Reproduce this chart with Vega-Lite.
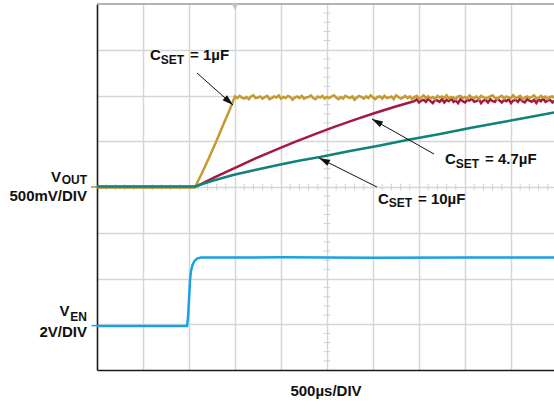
{
  "$schema": "https://vega.github.io/schema/vega-lite/v6.json",
  "width": 457,
  "height": 366,
  "autosize": {"type": "none"},
  "padding": {"left": 97, "top": 4, "right": 0, "bottom": 32},
  "background": "white",
  "config": {"view": {"stroke": null}, "font": "Liberation Sans"},
  "datasets": {
    "curves": [
      {"s": "r", "x": 0, "y": 4.0}, {"s": "r", "x": 2.13, "y": 4.0}, {"s": "r", "x": 2.348, "y": 4.108}, {"s": "r", "x": 2.565, "y": 4.215}, {"s": "r", "x": 3.0, "y": 4.42}, {"s": "r", "x": 3.435, "y": 4.618}, {"s": "r", "x": 3.87, "y": 4.806}, {"s": "r", "x": 4.304, "y": 4.986}, {"s": "r", "x": 4.739, "y": 5.157}, {"s": "r", "x": 5.174, "y": 5.319}, {"s": "r", "x": 5.609, "y": 5.473}, {"s": "r", "x": 6.043, "y": 5.617}, {"s": "r", "x": 6.478, "y": 5.754}, {"s": "r", "x": 6.87, "y": 5.869},
      {"s": "r", "x": 6.9, "y": 5.876}, {"s": "r", "x": 6.95, "y": 5.918}, {"s": "r", "x": 7.0, "y": 5.848}, {"s": "r", "x": 7.05, "y": 5.89}, {"s": "r", "x": 7.1, "y": 5.904}, {"s": "r", "x": 7.15, "y": 5.862}, {"s": "r", "x": 7.2, "y": 5.932}, {"s": "r", "x": 7.25, "y": 5.876}, {"s": "r", "x": 7.3, "y": 5.834}, {"s": "r", "x": 7.35, "y": 5.904},
      {"s": "r", "x": 7.4, "y": 5.89}, {"s": "r", "x": 7.45, "y": 5.862}, {"s": "r", "x": 7.5, "y": 5.918}, {"s": "r", "x": 7.55, "y": 5.848}, {"s": "r", "x": 7.6, "y": 5.904}, {"s": "r", "x": 7.65, "y": 5.876}, {"s": "r", "x": 7.7, "y": 5.932}, {"s": "r", "x": 7.75, "y": 5.862}, {"s": "r", "x": 7.8, "y": 5.89}, {"s": "r", "x": 7.85, "y": 5.834},
      {"s": "r", "x": 7.9, "y": 5.918}, {"s": "r", "x": 7.95, "y": 5.876}, {"s": "r", "x": 8.0, "y": 5.848}, {"s": "r", "x": 8.05, "y": 5.904}, {"s": "r", "x": 8.1, "y": 5.89}, {"s": "r", "x": 8.15, "y": 5.932}, {"s": "r", "x": 8.2, "y": 5.862}, {"s": "r", "x": 8.25, "y": 5.876}, {"s": "r", "x": 8.3, "y": 5.918}, {"s": "r", "x": 8.35, "y": 5.834},
      {"s": "r", "x": 8.4, "y": 5.89}, {"s": "r", "x": 8.45, "y": 5.904}, {"s": "r", "x": 8.5, "y": 5.848}, {"s": "r", "x": 8.55, "y": 5.918}, {"s": "r", "x": 8.6, "y": 5.876}, {"s": "r", "x": 8.65, "y": 5.862}, {"s": "r", "x": 8.7, "y": 5.932}, {"s": "r", "x": 8.75, "y": 5.89}, {"s": "r", "x": 8.8, "y": 5.848}, {"s": "r", "x": 8.85, "y": 5.904},
      {"s": "r", "x": 8.9, "y": 5.876}, {"s": "r", "x": 8.95, "y": 5.918}, {"s": "r", "x": 9.0, "y": 5.834}, {"s": "r", "x": 9.05, "y": 5.89}, {"s": "r", "x": 9.1, "y": 5.904}, {"s": "r", "x": 9.15, "y": 5.862}, {"s": "r", "x": 9.2, "y": 5.932}, {"s": "r", "x": 9.25, "y": 5.876}, {"s": "r", "x": 9.3, "y": 5.848}, {"s": "r", "x": 9.35, "y": 5.918},
      {"s": "r", "x": 9.4, "y": 5.89}, {"s": "r", "x": 9.45, "y": 5.862}, {"s": "r", "x": 9.5, "y": 5.904}, {"s": "r", "x": 9.55, "y": 5.834}, {"s": "r", "x": 9.6, "y": 5.918}, {"s": "r", "x": 9.65, "y": 5.876}, {"s": "r", "x": 9.7, "y": 5.932}, {"s": "r", "x": 9.75, "y": 5.862}, {"s": "r", "x": 9.8, "y": 5.89}, {"s": "r", "x": 9.85, "y": 5.904},
      {"s": "r", "x": 9.9, "y": 5.848}, {"s": "r", "x": 9.935, "y": 5.89},

      {"s": "y", "x": 0, "y": 3.99}, {"s": "y", "x": 1.0, "y": 3.99}, {"s": "y", "x": 2.13, "y": 3.99}, {"s": "y", "x": 2.196, "y": 4.131}, {"s": "y", "x": 2.283, "y": 4.306}, {"s": "y", "x": 2.413, "y": 4.59}, {"s": "y", "x": 2.587, "y": 4.984}, {"s": "y", "x": 2.761, "y": 5.399}, {"s": "y", "x": 2.891, "y": 5.705}, {"s": "y", "x": 2.975, "y": 5.92},
      {"s": "y", "x": 3.0, "y": 5.979}, {"s": "y", "x": 3.05, "y": 5.943}, {"s": "y", "x": 3.1, "y": 5.991}, {"s": "y", "x": 3.15, "y": 5.955}, {"s": "y", "x": 3.2, "y": 5.931}, {"s": "y", "x": 3.25, "y": 5.967}, {"s": "y", "x": 3.3, "y": 5.919}, {"s": "y", "x": 3.35, "y": 5.979}, {"s": "y", "x": 3.4, "y": 6.003}, {"s": "y", "x": 3.45, "y": 5.943},
      {"s": "y", "x": 3.5, "y": 5.955}, {"s": "y", "x": 3.55, "y": 5.979}, {"s": "y", "x": 3.6, "y": 5.931}, {"s": "y", "x": 3.65, "y": 5.967}, {"s": "y", "x": 3.7, "y": 5.991}, {"s": "y", "x": 3.75, "y": 5.919}, {"s": "y", "x": 3.8, "y": 5.943}, {"s": "y", "x": 3.85, "y": 5.979}, {"s": "y", "x": 3.9, "y": 5.955}, {"s": "y", "x": 3.95, "y": 6.003},
      {"s": "y", "x": 4.0, "y": 5.931}, {"s": "y", "x": 4.05, "y": 5.967}, {"s": "y", "x": 4.1, "y": 5.943}, {"s": "y", "x": 4.15, "y": 5.991}, {"s": "y", "x": 4.2, "y": 5.967}, {"s": "y", "x": 4.25, "y": 5.907}, {"s": "y", "x": 4.3, "y": 5.955}, {"s": "y", "x": 4.35, "y": 5.979}, {"s": "y", "x": 4.4, "y": 5.943}, {"s": "y", "x": 4.45, "y": 5.991},
      {"s": "y", "x": 4.5, "y": 5.931}, {"s": "y", "x": 4.55, "y": 5.955}, {"s": "y", "x": 4.6, "y": 5.967}, {"s": "y", "x": 4.65, "y": 6.003}, {"s": "y", "x": 4.7, "y": 5.943}, {"s": "y", "x": 4.75, "y": 5.919}, {"s": "y", "x": 4.8, "y": 5.979}, {"s": "y", "x": 4.85, "y": 5.955}, {"s": "y", "x": 4.9, "y": 5.991}, {"s": "y", "x": 4.95, "y": 5.931},
      {"s": "y", "x": 5.0, "y": 5.967}, {"s": "y", "x": 5.05, "y": 5.943}, {"s": "y", "x": 5.1, "y": 5.979}, {"s": "y", "x": 5.15, "y": 6.003}, {"s": "y", "x": 5.2, "y": 5.955}, {"s": "y", "x": 5.25, "y": 5.919}, {"s": "y", "x": 5.3, "y": 5.967}, {"s": "y", "x": 5.35, "y": 5.931}, {"s": "y", "x": 5.4, "y": 5.991}, {"s": "y", "x": 5.45, "y": 5.967},
      {"s": "y", "x": 5.5, "y": 5.943}, {"s": "y", "x": 5.55, "y": 5.979}, {"s": "y", "x": 5.6, "y": 5.907}, {"s": "y", "x": 5.65, "y": 5.955}, {"s": "y", "x": 5.7, "y": 5.991}, {"s": "y", "x": 5.75, "y": 5.967}, {"s": "y", "x": 5.8, "y": 5.931}, {"s": "y", "x": 5.85, "y": 5.979}, {"s": "y", "x": 5.9, "y": 5.943}, {"s": "y", "x": 5.95, "y": 6.003},
      {"s": "y", "x": 6.0, "y": 5.955}, {"s": "y", "x": 6.05, "y": 5.919}, {"s": "y", "x": 6.1, "y": 5.967}, {"s": "y", "x": 6.15, "y": 5.979}, {"s": "y", "x": 6.2, "y": 5.931}, {"s": "y", "x": 6.25, "y": 5.991}, {"s": "y", "x": 6.3, "y": 5.943}, {"s": "y", "x": 6.35, "y": 5.955}, {"s": "y", "x": 6.4, "y": 5.979}, {"s": "y", "x": 6.45, "y": 5.919},
      {"s": "y", "x": 6.5, "y": 6.003}, {"s": "y", "x": 6.55, "y": 5.967}, {"s": "y", "x": 6.6, "y": 5.931}, {"s": "y", "x": 6.65, "y": 5.955}, {"s": "y", "x": 6.7, "y": 5.991}, {"s": "y", "x": 6.75, "y": 5.943}, {"s": "y", "x": 6.8, "y": 5.979}, {"s": "y", "x": 6.85, "y": 5.919}, {"s": "y", "x": 6.9, "y": 5.967}, {"s": "y", "x": 6.95, "y": 5.991},
      {"s": "y", "x": 7.0, "y": 5.931}, {"s": "y", "x": 7.05, "y": 5.955}, {"s": "y", "x": 7.1, "y": 6.003}, {"s": "y", "x": 7.15, "y": 5.943}, {"s": "y", "x": 7.2, "y": 5.979}, {"s": "y", "x": 7.25, "y": 5.931}, {"s": "y", "x": 7.3, "y": 5.967}, {"s": "y", "x": 7.35, "y": 5.919}, {"s": "y", "x": 7.4, "y": 5.991}, {"s": "y", "x": 7.45, "y": 5.955},
      {"s": "y", "x": 7.5, "y": 5.979}, {"s": "y", "x": 7.55, "y": 5.943}, {"s": "y", "x": 7.6, "y": 6.003}, {"s": "y", "x": 7.65, "y": 5.931}, {"s": "y", "x": 7.7, "y": 5.967}, {"s": "y", "x": 7.75, "y": 5.955}, {"s": "y", "x": 7.8, "y": 5.919}, {"s": "y", "x": 7.85, "y": 5.979}, {"s": "y", "x": 7.9, "y": 5.991}, {"s": "y", "x": 7.95, "y": 5.943},
      {"s": "y", "x": 8.0, "y": 5.967}, {"s": "y", "x": 8.05, "y": 5.931}, {"s": "y", "x": 8.1, "y": 6.003}, {"s": "y", "x": 8.15, "y": 5.955}, {"s": "y", "x": 8.2, "y": 5.943}, {"s": "y", "x": 8.25, "y": 5.979}, {"s": "y", "x": 8.3, "y": 5.919}, {"s": "y", "x": 8.35, "y": 5.991}, {"s": "y", "x": 8.4, "y": 5.967}, {"s": "y", "x": 8.45, "y": 5.931},
      {"s": "y", "x": 8.5, "y": 5.955}, {"s": "y", "x": 8.55, "y": 5.979}, {"s": "y", "x": 8.6, "y": 6.003}, {"s": "y", "x": 8.65, "y": 5.943}, {"s": "y", "x": 8.7, "y": 5.919}, {"s": "y", "x": 8.75, "y": 5.967}, {"s": "y", "x": 8.8, "y": 5.991}, {"s": "y", "x": 8.85, "y": 5.931}, {"s": "y", "x": 8.9, "y": 5.979}, {"s": "y", "x": 8.95, "y": 5.955},
      {"s": "y", "x": 9.0, "y": 5.943}, {"s": "y", "x": 9.05, "y": 6.003}, {"s": "y", "x": 9.1, "y": 5.931}, {"s": "y", "x": 9.15, "y": 5.967}, {"s": "y", "x": 9.2, "y": 5.991}, {"s": "y", "x": 9.25, "y": 5.919}, {"s": "y", "x": 9.3, "y": 5.955}, {"s": "y", "x": 9.35, "y": 5.979}, {"s": "y", "x": 9.4, "y": 5.943}, {"s": "y", "x": 9.45, "y": 5.967},
      {"s": "y", "x": 9.5, "y": 6.003}, {"s": "y", "x": 9.55, "y": 5.931}, {"s": "y", "x": 9.6, "y": 5.943}, {"s": "y", "x": 9.65, "y": 5.991}, {"s": "y", "x": 9.7, "y": 5.955}, {"s": "y", "x": 9.75, "y": 5.979}, {"s": "y", "x": 9.8, "y": 5.919}, {"s": "y", "x": 9.85, "y": 5.967}, {"s": "y", "x": 9.9, "y": 5.979}, {"s": "y", "x": 9.935, "y": 5.943},

      {"s": "t", "x": 0, "y": 4.01}, {"s": "t", "x": 2.13, "y": 4.01}, {"s": "t", "x": 2.457, "y": 4.12}, {"s": "t", "x": 2.957, "y": 4.262}, {"s": "t", "x": 3.435, "y": 4.372}, {"s": "t", "x": 3.935, "y": 4.481}, {"s": "t", "x": 4.413, "y": 4.579}, {"s": "t", "x": 4.848, "y": 4.656}, {"s": "t", "x": 5.5, "y": 4.787}, {"s": "t", "x": 6.152, "y": 4.907}, {"s": "t", "x": 6.739, "y": 5.027}, {"s": "t", "x": 7.457, "y": 5.158}, {"s": "t", "x": 8.109, "y": 5.29}, {"s": "t", "x": 8.761, "y": 5.41}, {"s": "t", "x": 9.413, "y": 5.53}, {"s": "t", "x": 9.935, "y": 5.628},

      {"s": "c", "x": 0, "y": 0.962}, {"s": "c", "x": 1.957, "y": 0.962}, {"s": "c", "x": 1.978, "y": 1.137}, {"s": "c", "x": 2.0, "y": 1.53}, {"s": "c", "x": 2.022, "y": 1.967}, {"s": "c", "x": 2.043, "y": 2.164}, {"s": "c", "x": 2.076, "y": 2.295}, {"s": "c", "x": 2.12, "y": 2.383}, {"s": "c", "x": 2.174, "y": 2.437}, {"s": "c", "x": 2.261, "y": 2.459}, {"s": "c", "x": 4.0, "y": 2.463}, {"s": "c", "x": 6.0, "y": 2.456}, {"s": "c", "x": 8.0, "y": 2.461}, {"s": "c", "x": 9.935, "y": 2.459}
    ],
    "hx": [{"x": 0.2}, {"x": 0.4}, {"x": 0.6}, {"x": 0.8}, {"x": 1.2}, {"x": 1.4}, {"x": 1.6}, {"x": 1.8}, {"x": 2.2}, {"x": 2.4}, {"x": 2.6}, {"x": 2.8}, {"x": 3.2}, {"x": 3.4}, {"x": 3.6}, {"x": 3.8}, {"x": 4.2}, {"x": 4.4}, {"x": 4.6}, {"x": 4.8}, {"x": 5.2}, {"x": 5.4}, {"x": 5.6}, {"x": 5.8}, {"x": 6.2}, {"x": 6.4}, {"x": 6.6}, {"x": 6.8}, {"x": 7.2}, {"x": 7.4}, {"x": 7.6}, {"x": 7.8}, {"x": 8.2}, {"x": 8.4}, {"x": 8.6}, {"x": 8.8}, {"x": 9.2}, {"x": 9.4}, {"x": 9.6}, {"x": 9.8}],
    "vy": [{"y": 0.2}, {"y": 0.4}, {"y": 0.6}, {"y": 0.8}, {"y": 1.2}, {"y": 1.4}, {"y": 1.6}, {"y": 1.8}, {"y": 2.2}, {"y": 2.4}, {"y": 2.6}, {"y": 2.8}, {"y": 3.2}, {"y": 3.4}, {"y": 3.6}, {"y": 3.8}, {"y": 4.2}, {"y": 4.4}, {"y": 4.6}, {"y": 4.8}, {"y": 5.2}, {"y": 5.4}, {"y": 5.6}, {"y": 5.8}, {"y": 6.2}, {"y": 6.4}, {"y": 6.6}, {"y": 6.8}, {"y": 7.2}, {"y": 7.4}, {"y": 7.6}, {"y": 7.8}],
    "arrows": [
      {"id": "a1", "x": 2.174, "y": 6.492, "x2": 2.957, "y2": 5.792},
      {"id": "a2", "x": 7.326, "y": 4.721, "x2": 5.978, "y2": 5.486},
      {"id": "a3", "x": 6.087, "y": 4.0, "x2": 4.826, "y2": 4.634}
    ],
    "mainL": [
      {"t": "C", "x": 1.152, "y": 6.776}, {"t": "= 1µF", "x": 2.022, "y": 6.776},
      {"t": "C", "x": 7.565, "y": 4.503}, {"t": "= 4.7µF", "x": 8.435, "y": 4.503},
      {"t": "C", "x": 6.109, "y": 3.628}, {"t": "= 10µF", "x": 6.978, "y": 3.628}
    ],
    "subL": [
      {"t": "SET", "x": 1.385, "y": 6.678}, {"t": "SET", "x": 7.8, "y": 4.426}, {"t": "SET", "x": 6.344, "y": 3.552}
    ],
    "mainR": [
      {"t": "V", "x": -0.78, "y": 4.116}, {"t": "500mV/DIV", "x": -0.217, "y": 3.694},
      {"t": "V", "x": -0.6, "y": 1.18}, {"t": "2V/DIV", "x": -0.217, "y": 0.721}
    ],
    "subR": [
      {"t": "OUT", "x": -0.217, "y": 4.066}, {"t": "EN", "x": -0.217, "y": 1.071}
    ]
  },
  "layer": [
    {
      "data": {"name": "curves"},
      "transform": [{"filter": "datum.s === 'r'"}],
      "mark": {"type": "line", "color": "#a6193f", "strokeWidth": 2.5},
      "encoding": {
        "x": {"field": "x", "type": "quantitative", "scale": {"domain": [0, 9.935], "nice": false, "zero": false},
          "axis": {"title": "500µs/DIV", "values": [1, 2, 3, 4, 5, 6, 7, 8, 9], "grid": true, "gridColor": "#d6d6d6", "gridWidth": 1.5, "ticks": false, "labels": false, "domainColor": "#1a1a1a", "domainWidth": 1.6, "titleFont": "Liberation Sans", "titleFontSize": 15, "titleFontWeight": "bold", "titleColor": "#111111", "titlePadding": 13}},
        "y": {"field": "y", "type": "quantitative", "scale": {"domain": [0, 8], "nice": false, "zero": false},
          "axis": {"title": null, "values": [1, 2, 3, 4, 5, 6, 7], "grid": true, "gridColor": "#d6d6d6", "gridWidth": 1.5, "ticks": false, "labels": false, "domainColor": "#1a1a1a", "domainWidth": 1.6}}
      }
    },
    {
      "data": {"name": "hx"},
      "mark": {"type": "tick", "orient": "vertical", "color": "#c2c2c2", "size": 7, "thickness": 1},
      "encoding": {
        "x": {"field": "x", "type": "quantitative", "scale": {"domain": [0, 9.935], "nice": false, "zero": false}},
        "y": {"datum": 4, "type": "quantitative", "scale": {"domain": [0, 8], "nice": false, "zero": false}}
      }
    },
    {
      "data": {"name": "vy"},
      "mark": {"type": "tick", "orient": "horizontal", "color": "#c2c2c2", "size": 7, "thickness": 1},
      "encoding": {
        "x": {"datum": 5, "type": "quantitative", "scale": {"domain": [0, 9.935], "nice": false, "zero": false}},
        "y": {"field": "y", "type": "quantitative", "scale": {"domain": [0, 8], "nice": false, "zero": false}}
      }
    },
    {
      "data": {"values": [{}]},
      "mark": {"type": "rule", "color": "#9a9a9a", "strokeWidth": 1.5},
      "encoding": {"y": {"datum": 8, "type": "quantitative", "scale": {"domain": [0, 8], "nice": false, "zero": false}}}
    },
    {
      "data": {"values": [{}]},
      "mark": {"type": "point", "shape": "triangle-down", "filled": true, "color": "#c4c4c4", "size": 45, "opacity": 1},
      "encoding": {
        "x": {"datum": 3, "type": "quantitative", "scale": {"domain": [0, 9.935], "nice": false, "zero": false}},
        "y": {"datum": 7.94, "type": "quantitative", "scale": {"domain": [0, 8], "nice": false, "zero": false}}
      }
    },
    {
      "data": {"name": "curves"},
      "transform": [{"filter": "datum.s === 'y'"}],
      "mark": {"type": "line", "color": "#c59b2f", "strokeWidth": 2.5},
      "encoding": {
        "x": {"field": "x", "type": "quantitative", "scale": {"domain": [0, 9.935], "nice": false, "zero": false}},
        "y": {"field": "y", "type": "quantitative", "scale": {"domain": [0, 8], "nice": false, "zero": false}}
      }
    },
    {
      "data": {"name": "curves"},
      "transform": [{"filter": "datum.s === 't'"}],
      "mark": {"type": "line", "color": "#11827a", "strokeWidth": 2.5},
      "encoding": {
        "x": {"field": "x", "type": "quantitative", "scale": {"domain": [0, 9.935], "nice": false, "zero": false}},
        "y": {"field": "y", "type": "quantitative", "scale": {"domain": [0, 8], "nice": false, "zero": false}}
      }
    },
    {
      "data": {"name": "curves"},
      "transform": [{"filter": "datum.s === 'c'"}],
      "mark": {"type": "line", "color": "#1aa3dc", "strokeWidth": 2.5},
      "encoding": {
        "x": {"field": "x", "type": "quantitative", "scale": {"domain": [0, 9.935], "nice": false, "zero": false}},
        "y": {"field": "y", "type": "quantitative", "scale": {"domain": [0, 8], "nice": false, "zero": false}}
      }
    },
    {
      "data": {"values": [{}]},
      "mark": {"type": "rule", "color": "#b38f2e", "strokeWidth": 1.5},
      "encoding": {
        "x": {"datum": -0.13, "type": "quantitative", "scale": {"domain": [0, 9.935], "nice": false, "zero": false}},
        "x2": {"datum": 0},
        "y": {"datum": 4, "type": "quantitative", "scale": {"domain": [0, 8], "nice": false, "zero": false}}
      }
    },
    {
      "data": {"values": [{}]},
      "mark": {"type": "rule", "color": "#1aa3dc", "strokeWidth": 1.5},
      "encoding": {
        "x": {"datum": -0.12, "type": "quantitative", "scale": {"domain": [0, 9.935], "nice": false, "zero": false}},
        "x2": {"datum": 0},
        "y": {"datum": 0.97, "type": "quantitative", "scale": {"domain": [0, 8], "nice": false, "zero": false}}
      }
    },
    {
      "data": {"name": "arrows"},
      "mark": {"type": "rule", "color": "#111111", "strokeWidth": 1},
      "encoding": {
        "x": {"field": "x", "type": "quantitative", "scale": {"domain": [0, 9.935], "nice": false, "zero": false}},
        "y": {"field": "y", "type": "quantitative", "scale": {"domain": [0, 8], "nice": false, "zero": false}},
        "x2": {"field": "x2"},
        "y2": {"field": "y2"}
      }
    },
    {
      "data": {"name": "arrows"},
      "transform": [{"filter": "datum.id === 'a1'"}],
      "mark": {"type": "point", "shape": "M0,0L0.6,2L-0.6,2Z", "filled": true, "color": "#111111", "opacity": 1, "size": 121, "angle": 131.6},
      "encoding": {
        "x": {"field": "x2", "type": "quantitative", "scale": {"domain": [0, 9.935], "nice": false, "zero": false}},
        "y": {"field": "y2", "type": "quantitative", "scale": {"domain": [0, 8], "nice": false, "zero": false}}
      }
    },
    {
      "data": {"name": "arrows"},
      "transform": [{"filter": "datum.id === 'a2'"}],
      "mark": {"type": "point", "shape": "M0,0L0.6,2L-0.6,2Z", "filled": true, "color": "#111111", "opacity": 1, "size": 121, "angle": 299.4},
      "encoding": {
        "x": {"field": "x2", "type": "quantitative", "scale": {"domain": [0, 9.935], "nice": false, "zero": false}},
        "y": {"field": "y2", "type": "quantitative", "scale": {"domain": [0, 8], "nice": false, "zero": false}}
      }
    },
    {
      "data": {"name": "arrows"},
      "transform": [{"filter": "datum.id === 'a3'"}],
      "mark": {"type": "point", "shape": "M0,0L0.6,2L-0.6,2Z", "filled": true, "color": "#111111", "opacity": 1, "size": 121, "angle": 296.6},
      "encoding": {
        "x": {"field": "x2", "type": "quantitative", "scale": {"domain": [0, 9.935], "nice": false, "zero": false}},
        "y": {"field": "y2", "type": "quantitative", "scale": {"domain": [0, 8], "nice": false, "zero": false}}
      }
    },
    {
      "data": {"name": "mainL"},
      "mark": {"type": "text", "align": "left", "baseline": "alphabetic", "font": "Liberation Sans", "fontWeight": "bold", "fontSize": 15, "color": "#111111"},
      "encoding": {
        "x": {"field": "x", "type": "quantitative", "scale": {"domain": [0, 9.935], "nice": false, "zero": false}},
        "y": {"field": "y", "type": "quantitative", "scale": {"domain": [0, 8], "nice": false, "zero": false}},
        "text": {"field": "t"}
      }
    },
    {
      "data": {"name": "subL"},
      "mark": {"type": "text", "align": "left", "baseline": "alphabetic", "font": "Liberation Sans", "fontWeight": "bold", "fontSize": 12, "color": "#111111"},
      "encoding": {
        "x": {"field": "x", "type": "quantitative", "scale": {"domain": [0, 9.935], "nice": false, "zero": false}},
        "y": {"field": "y", "type": "quantitative", "scale": {"domain": [0, 8], "nice": false, "zero": false}},
        "text": {"field": "t"}
      }
    },
    {
      "data": {"name": "mainR"},
      "mark": {"type": "text", "align": "right", "baseline": "alphabetic", "font": "Liberation Sans", "fontWeight": "bold", "fontSize": 15, "color": "#111111"},
      "encoding": {
        "x": {"field": "x", "type": "quantitative", "scale": {"domain": [0, 9.935], "nice": false, "zero": false}},
        "y": {"field": "y", "type": "quantitative", "scale": {"domain": [0, 8], "nice": false, "zero": false}},
        "text": {"field": "t"}
      }
    },
    {
      "data": {"name": "subR"},
      "mark": {"type": "text", "align": "right", "baseline": "alphabetic", "font": "Liberation Sans", "fontWeight": "bold", "fontSize": 12, "color": "#111111"},
      "encoding": {
        "x": {"field": "x", "type": "quantitative", "scale": {"domain": [0, 9.935], "nice": false, "zero": false}},
        "y": {"field": "y", "type": "quantitative", "scale": {"domain": [0, 8], "nice": false, "zero": false}},
        "text": {"field": "t"}
      }
    }
  ]
}
